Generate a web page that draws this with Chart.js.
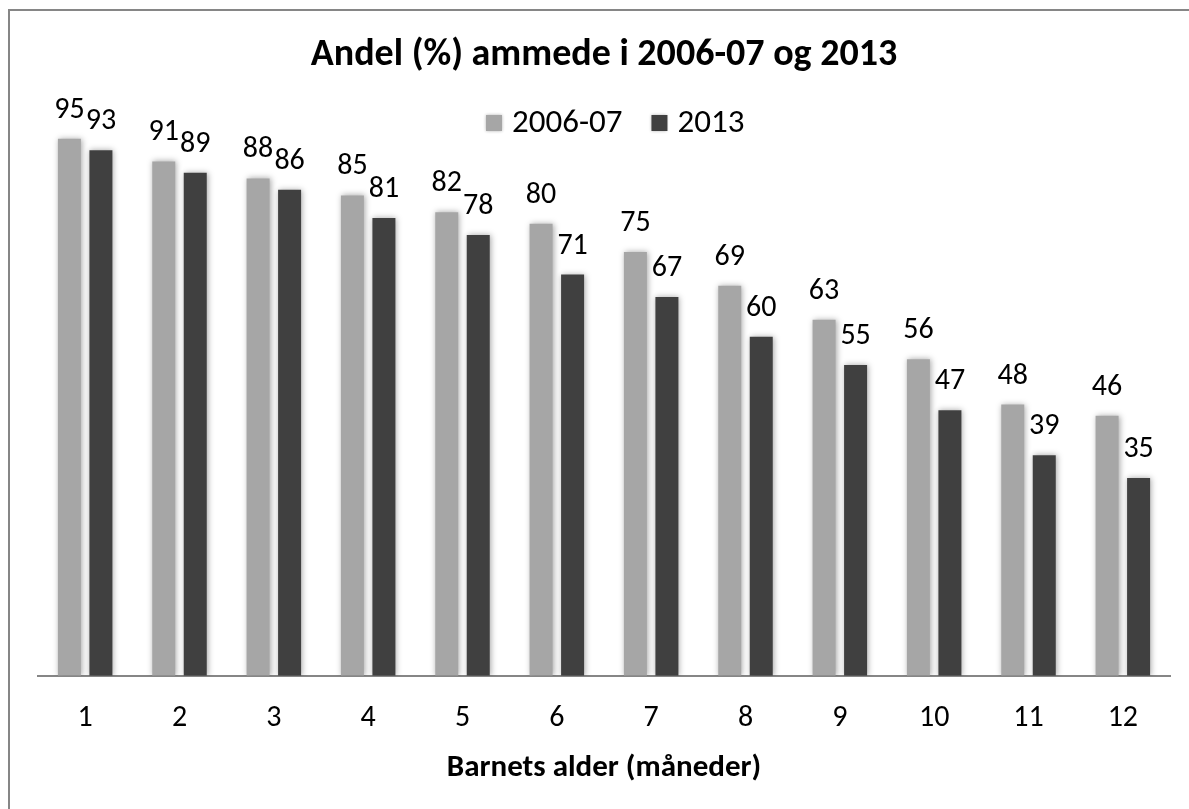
<!DOCTYPE html>
<html>
<head>
<meta charset="utf-8">
<script src="https://cdn.jsdelivr.net/npm/chart.js@4.4.0/dist/chart.umd.min.js"></script>
<style>
    body { margin: 0; background: #fff; }
    #wrap { position: relative; width: 1189px; height: 809px; }
    #frame {
        position: absolute; left: 8px; top: 9px; width: 1300px; height: 900px;
        border-left: 2px solid #868686; border-top: 2px solid #868686;
    }
    canvas { position: absolute; left: 0; top: 0; }
</style>
</head>
<body>
<div id="wrap">
    <div id="frame"></div>
    <canvas id="myBarChart" width="1189" height="809"></canvas>
</div>
<script>
var months = ['1', '2', '3', '4', '5', '6', '7', '8', '9', '10', '11', '12'];
var values2006 = [95, 91, 88, 85, 82, 80, 75, 69, 63, 56, 48, 46];
var values2013 = [93, 89, 86, 81, 78, 71, 67, 60, 55, 47, 39, 35];
var seriesNames = ['2006-07', '2013'];

var fontFam = "Carlito, Lato, 'Open Sans', sans-serif";

// skygge rundt stolpene
var shadowPlugin = {
    id: 'barShadow',
    beforeDatasetsDraw: function (chart) {
        var ctx = chart.ctx;
        ctx.save();
        ctx.shadowColor = 'rgba(0,0,0,0.35)';
        ctx.shadowBlur = 6;
        ctx.shadowOffsetX = 1;
        ctx.shadowOffsetY = 0;
    },
    afterDatasetsDraw: function (chart) {
        var ctx = chart.ctx;
        ctx.restore();
        // verdietiketter over stolpene
        ctx.save();
        ctx.font = '30px ' + fontFam;
        ctx.fillStyle = '#000';
        ctx.textAlign = 'center';
        ctx.textBaseline = 'alphabetic';
        chart.data.datasets.forEach(function (ds, i) {
            chart.getDatasetMeta(i).data.forEach(function (bar, j) {
                ctx.fillText(ds.data[j], bar.x, bar.y - 21);
            });
        });
        ctx.restore();
    }
};

// egen forklaring (legend) inne i plottet
var legendPlugin = {
    id: 'myLegend',
    afterDraw: function (chart) {
        var ctx = chart.ctx;
        ctx.save();
        ctx.font = '33px ' + fontFam;
        ctx.textBaseline = 'middle';
        var box = 16, gap = 10, spacing = 29;
        var x = 486;
        var y = 123;
        chart.data.datasets.forEach(function (ds, i) {
            ctx.shadowColor = 'rgba(0,0,0,0.3)';
            ctx.shadowBlur = 3;
            ctx.fillStyle = ds.backgroundColor;
            ctx.fillRect(x, y - box / 2, box, box);
            ctx.shadowBlur = 0;
            ctx.shadowColor = 'transparent';
            ctx.fillStyle = '#000';
            ctx.fillText(ds.label, x + box + gap, y + 1);
            x += box + gap + ctx.measureText(ds.label).width + spacing;
        });
        ctx.restore();
    }
};

var ctx = document.getElementById('myBarChart').getContext('2d');
var myBarChart = new Chart(ctx, {
    type: 'bar',
    data: {
        labels: months,
        datasets: [{
            label: seriesNames[0],
            data: values2006,
            backgroundColor: '#a6a6a6'
        },
        {
            label: seriesNames[1],
            data: values2013,
            backgroundColor: '#404040'
        }]
    },
    options: {
        responsive: false,
        animation: false,
        categoryPercentage: 0.668,
        barPercentage: 0.73,
        layout: {
            padding: { left: 38, right: 19, top: 0, bottom: 22 }
        },
        plugins: {
            legend: { display: false },
            tooltip: { enabled: false },
            title: {
                display: true,
                text: 'Andel (%) ammede i 2006-07 og 2013',
                color: '#000',
                font: { family: fontFam, size: 38, weight: 'bold' },
                padding: { top: 33, bottom: 32 }
            }
        },
        scales: {
            y: {
                display: false,
                min: 0,
                max: 100
            },
            x: {
                grid: { display: false, drawTicks: false },
                border: { display: true, color: '#868686', width: 2 },
                ticks: {
                    color: '#000',
                    font: { family: fontFam, size: 30 },
                    padding: 25
                },
                title: {
                    display: true,
                    text: 'Barnets alder (måneder)',
                    color: '#000',
                    font: { family: fontFam, size: 31, weight: 'bold' },
                    padding: { top: -12, bottom: 0 }
                }
            }
        }
    },
    plugins: [shadowPlugin, legendPlugin]
});
</script>
</body>
</html>
